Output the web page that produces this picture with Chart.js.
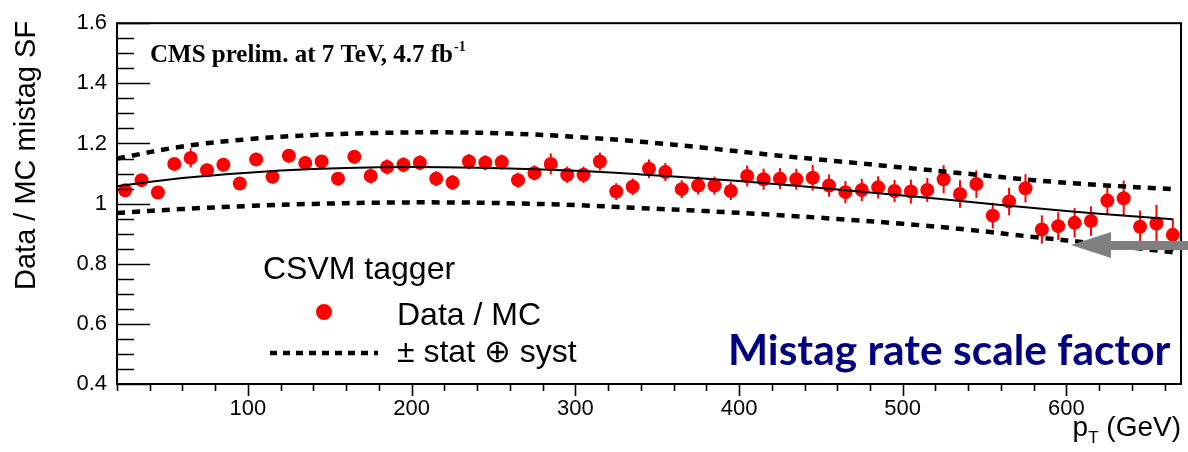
<!DOCTYPE html>
<html>
<head>
<meta charset="utf-8">
<title>CSVM mistag scale factor</title>
<script src="https://cdn.jsdelivr.net/npm/chart.js@4.4.1/dist/chart.umd.min.js"></script>
<style>
  html, body { margin: 0; padding: 0; background: #fff; }
  #wrap { position: relative; width: 1188px; height: 452px; }
</style>
</head>
<body>
<div id="wrap"><canvas id="sfChart"></canvas></div>
<script>
// jet pT bin centres (GeV) with the measured Data/MC mistag scale factor
const ptBins = [25, 35, 45, 55, 65, 75, 85, 95, 105, 115, 125, 135, 145, 155, 165,
  175, 185, 195, 205, 215, 225, 235, 245, 255, 265, 275, 285, 295, 305, 315,
  325, 335, 345, 355, 365, 375, 385, 395, 405, 415, 425, 435, 445, 455, 465,
  475, 485, 495, 505, 515, 525, 535, 545, 555, 565, 575, 585, 595, 605, 615,
  625, 635, 645, 655, 665];
const sfData = [1.044, 1.078, 1.037, 1.132, 1.152, 1.111, 1.129, 1.067, 1.147, 1.089,
  1.159, 1.135, 1.140, 1.083, 1.156, 1.092, 1.122, 1.129, 1.136, 1.083,
  1.070, 1.140, 1.136, 1.138, 1.078, 1.102, 1.132, 1.096, 1.096, 1.140,
  1.040, 1.056, 1.116, 1.105, 1.048, 1.060, 1.060, 1.042, 1.092, 1.081,
  1.083, 1.081, 1.086, 1.060, 1.038, 1.045, 1.054, 1.042, 1.040, 1.045,
  1.081, 1.032, 1.065, 0.960, 1.007, 1.051, 0.914, 0.925, 0.936, 0.942,
  1.010, 1.018, 0.923, 0.934, 0.896];
const sfErr = [0.020, 0.020, 0.020, 0.020, 0.032, 0.022, 0.022, 0.022, 0.022, 0.022,
  0.022, 0.022, 0.022, 0.022, 0.022, 0.025, 0.025, 0.025, 0.025, 0.025,
  0.025, 0.025, 0.025, 0.025, 0.025, 0.025, 0.035, 0.027, 0.027, 0.030,
  0.028, 0.028, 0.031, 0.030, 0.030, 0.030, 0.030, 0.030, 0.035, 0.035,
  0.035, 0.035, 0.043, 0.037, 0.037, 0.037, 0.037, 0.037, 0.040, 0.040,
  0.047, 0.046, 0.046, 0.043, 0.046, 0.047, 0.047, 0.046, 0.049, 0.049,
  0.048, 0.059, 0.054, 0.062, 0.054];

// fitted scale factor and its stat (+) syst envelope
const curvePt = [20, 60, 100, 140, 180, 220, 260, 300, 340, 380, 420, 460, 500, 540, 580, 620, 665];
const sfFit = [1.058, 1.085, 1.103, 1.115, 1.121, 1.121, 1.117, 1.109, 1.097, 1.083,
  1.066, 1.047, 1.027, 1.006, 0.985, 0.966, 0.948];
const sfUp = [1.150, 1.190, 1.214, 1.228, 1.235, 1.237, 1.233, 1.222, 1.206, 1.185,
  1.162, 1.141, 1.120, 1.099, 1.078, 1.062, 1.048];
const sfDown = [0.969, 0.982, 0.992, 0.999, 1.003, 1.004, 1.001, 0.995, 0.985, 0.975,
  0.963, 0.949, 0.933, 0.913, 0.889, 0.866, 0.838];

const xTicks = [100, 200, 300, 400, 500, 600];
const yTicks = [0.4, 0.6, 0.8, 1, 1.2, 1.4, 1.6];

const SANS = '"Liberation Sans", Arial, sans-serif';
const RED = '#ff0000';

// ROOT-like frame: inward y ticks, short outward x ticks, labels, legend
const rootStyle = {
    id: 'rootStyle',
    beforeDatasetsDraw(chart) {
        const { ctx, scales: { x, y } } = chart;
        ctx.save();
        ctx.strokeStyle = RED;
        ctx.lineWidth = 2;
        ptBins.forEach((pt, i) => {
            const px = x.getPixelForValue(pt);
            ctx.beginPath();
            ctx.moveTo(px, y.getPixelForValue(sfData[i] - sfErr[i]));
            ctx.lineTo(px, y.getPixelForValue(sfData[i] + sfErr[i]));
            ctx.stroke();
        });
        ctx.restore();
    },
    afterDraw(chart) {
        const { ctx, chartArea: a, scales: { x, y } } = chart;
        ctx.save();

        // frame
        ctx.strokeStyle = '#000';
        ctx.lineWidth = 2;
        ctx.strokeRect(a.left, a.top, a.right - a.left, a.bottom - a.top);

        // y ticks every 0.05, major every 0.2
        ctx.lineWidth = 1.6;
        ctx.beginPath();
        for (let i = 8; i <= 32; i++) {
            const py = Math.round(y.getPixelForValue(i * 0.05)) + 0.5;
            const len = i % 4 === 0 ? 33 : 17;
            ctx.moveTo(a.left, py);
            ctx.lineTo(a.left + len, py);
        }
        // x ticks every 20 GeV, major every 100
        for (let v = 20; v <= 660; v += 20) {
            const px = Math.round(x.getPixelForValue(v)) + 0.5;
            const len = v % 100 === 0 ? 12 : 7;
            ctx.moveTo(px, a.bottom);
            ctx.lineTo(px, a.bottom + len);
        }
        ctx.stroke();

        ctx.fillStyle = '#000';
        ctx.textBaseline = 'alphabetic';

        // y axis title
        ctx.save();
        ctx.translate(35, 290);
        ctx.rotate(-Math.PI / 2);
        ctx.font = '29px ' + SANS;
        ctx.textAlign = 'left';
        ctx.fillText('Data / MC mistag SF', 0, 0);
        ctx.restore();

        // x axis title: p_T (GeV)
        ctx.textAlign = 'left';
        ctx.font = '28px ' + SANS;
        const unit = ' (GeV)';
        const wUnit = ctx.measureText(unit).width;
        const wP = ctx.measureText('p').width;
        ctx.font = '17px ' + SANS;
        const wT = ctx.measureText('T').width;
        let tx = a.right - wUnit - wT - wP;
        ctx.font = '28px ' + SANS;
        ctx.fillText('p', tx, 436);
        ctx.font = '17px ' + SANS;
        ctx.fillText('T', tx + wP, 443);
        ctx.font = '28px ' + SANS;
        ctx.fillText(unit, tx + wP + wT, 436);

        // experiment label
        ctx.font = 'bold 25px "Liberation Serif", "Times New Roman", serif';
        const head = 'CMS prelim. at 7 TeV, 4.7 fb';
        ctx.fillText(head, 150, 62);
        const wHead = ctx.measureText(head).width;
        ctx.font = 'bold 14px "Liberation Serif", "Times New Roman", serif';
        ctx.fillText('-1', 150 + wHead + 1, 51);

        // legend
        ctx.font = '32px ' + SANS;
        ctx.fillText('CSVM tagger', 263, 279);
        ctx.fillText('Data / MC', 397, 325);
        ctx.fillText('\u00b1 stat \u2295 syst', 397, 362);
        ctx.fillStyle = RED;
        ctx.beginPath();
        ctx.arc(324, 312, 8, 0, Math.PI * 2);
        ctx.fill();
        ctx.strokeStyle = '#000';
        ctx.lineWidth = 4.5;
        ctx.setLineDash([7, 6]);
        ctx.beginPath();
        ctx.moveTo(270, 353);
        ctx.lineTo(378, 353);
        ctx.stroke();
        ctx.setLineDash([]);

        // slide caption
        const caption = 'Mistag rate scale factor';
        ctx.font = 'bold 36px Lato, "Open Sans", sans-serif';
        const size = 36 * 442 / ctx.measureText(caption).width;
        ctx.font = 'bold ' + size.toFixed(1) + 'px Lato, "Open Sans", sans-serif';
        ctx.fillStyle = '#000080';
        ctx.fillText(caption, 728, 365);

        // grey pointer arrow at the lower envelope
        ctx.fillStyle = '#808080';
        ctx.beginPath();
        ctx.moveTo(1071, 245);
        ctx.lineTo(1111, 232);
        ctx.lineTo(1111, 241);
        ctx.lineTo(1188, 241);
        ctx.lineTo(1188, 250);
        ctx.lineTo(1111, 250);
        ctx.lineTo(1111, 258);
        ctx.closePath();
        ctx.fill();

        ctx.restore();
    }
};

const toPoints = (xs, ys) => xs.map((v, i) => ({ x: v, y: ys[i] }));

const ctx = document.getElementById('sfChart').getContext('2d');
new Chart(ctx, {
    type: 'scatter',
    data: {
        datasets: [{
            label: 'fit',
            data: toPoints(curvePt, sfFit),
            showLine: true,
            borderColor: '#000',
            borderWidth: 2,
            pointRadius: 0,
            tension: 0.4
        }, {
            label: '+ stat \u2295 syst',
            data: toPoints(curvePt, sfUp),
            showLine: true,
            borderColor: '#000',
            borderWidth: 4.5,
            borderDash: [8, 7],
            pointRadius: 0,
            tension: 0.4
        }, {
            label: '- stat \u2295 syst',
            data: toPoints(curvePt, sfDown),
            showLine: true,
            borderColor: '#000',
            borderWidth: 4.5,
            borderDash: [8, 7],
            pointRadius: 0,
            tension: 0.4
        }, {
            label: 'Data / MC',
            data: toPoints(ptBins, sfData),
            backgroundColor: RED,
            borderWidth: 0,
            pointRadius: 7,
            pointHoverRadius: 7
        }]
    },
    options: {
        responsive: true,
        maintainAspectRatio: false,
        animation: false,
        layout: { padding: { top: 17, right: 5, left: 0, bottom: 0 } },
        plugins: {
            legend: { display: false },
            tooltip: { enabled: false }
        },
        scales: {
            x: {
                type: 'linear',
                min: 20,
                max: 670,
                grid: { display: false, drawTicks: false },
                border: { display: false },
                afterBuildTicks: s => { s.ticks = xTicks.map(v => ({ value: v })); },
                afterFit: s => { s.height = 68; },
                ticks: {
                    color: '#000',
                    padding: 12,
                    autoSkip: false,
                    maxRotation: 0,
                    font: { family: SANS, size: 22 }
                }
            },
            y: {
                min: 0.4,
                max: 1.6,
                grid: { display: false, drawTicks: false },
                border: { display: false },
                afterBuildTicks: s => { s.ticks = yTicks.map(v => ({ value: v })); },
                afterFit: s => { s.width = 117; },
                ticks: {
                    color: '#000',
                    padding: 10,
                    font: { family: SANS, size: 22 },
                    callback: v => String(+v.toFixed(1))
                }
            }
        }
    },
    plugins: [rootStyle]
});
</script>
</body>
</html>
